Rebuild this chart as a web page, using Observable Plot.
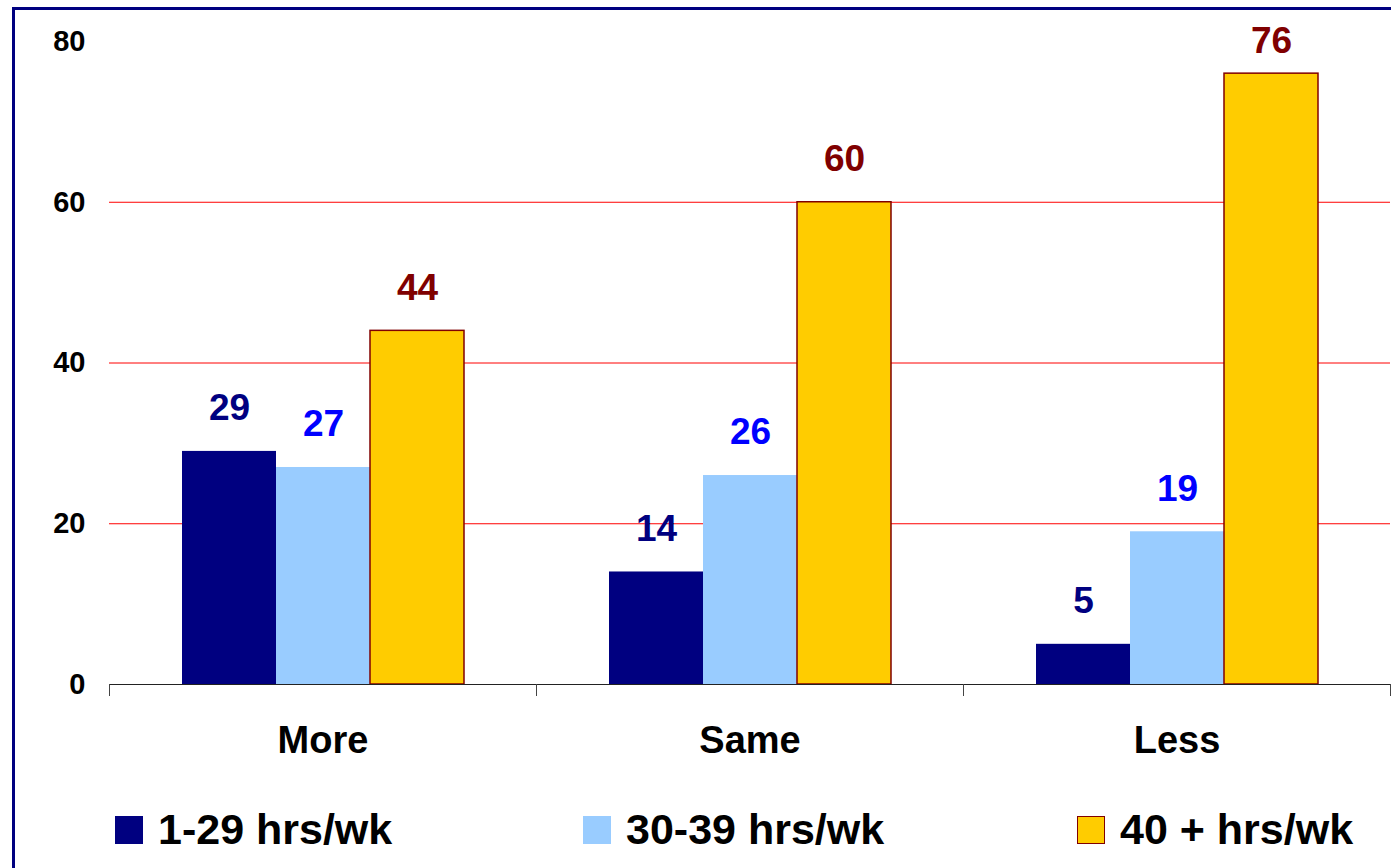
<!DOCTYPE html>
<html>
<head>
<meta charset="utf-8">
<script src="https://cdn.jsdelivr.net/npm/d3@7"></script>
<script src="https://cdn.jsdelivr.net/npm/@observablehq/plot@0.6"></script>
<style>
  html, body { margin: 0; padding: 0; background: #fff; overflow: hidden; }
  body { width: 1391px; height: 868px; position: relative; font-family: "Liberation Sans", Arial, sans-serif; }
  #frame { position: absolute; left: 12px; top: 7px; width: 1400px; height: 900px;
           border-left: 3px solid #000080; border-top: 3px solid #000080; box-sizing: border-box; }
  #chart { position: absolute; left: 0; top: 0; }
  #legend { position: absolute; left: 0; top: 805px; width: 1391px; height: 60px; }
  .item { position: absolute; top: 0; display: flex; align-items: center; font-weight: bold; font-size: 43px; color: #000; white-space: nowrap; }
  .sw { width: 28px; height: 28px; margin-right: 15px; box-sizing: border-box; }
</style>
</head>
<body>
<div id="frame"></div>
<div id="chart"></div>
<div id="legend"></div>
<script>
const categories = ["More", "Same", "Less"];
const series = ["1-29 hrs/wk", "30-39 hrs/wk", "40 + hrs/wk"];
const values1 = [29, 14, 5];
const values2 = [27, 26, 19];
const values3 = [44, 60, 76];
const yTicks = [0, 20, 40, 60, 80];
const gridValues = [20, 40, 60];

const fills = ["#000080", "#99CCFF", "#FFCC00"];
const labelColors = ["#000080", "#0000FF", "#800000"];

const allValues = [values1, values2, values3];
const data = [];
categories.forEach((c, i) => {
  series.forEach((s, j) => data.push({cat: c, series: s, value: allValues[j][i]}));
});

// label sits above its bar, but is kept inside the plot area (like the original)
const labelY = d => Math.min(d.value + 5.35, 80);

const labelMarks = series.map((s, j) =>
  Plot.text(data.filter(d => d.series === s), {
    fx: "cat", x: "series", y: labelY, text: d => String(d.value),
    fill: labelColors[j], fontSize: 37, fontWeight: "bold",
    fontFamily: "Liberation Sans, Arial, sans-serif"
  })
);

const chart = Plot.plot({
  width: 1391,
  height: 775,
  marginTop: 41,
  marginBottom: 91,
  marginLeft: 109,
  marginRight: 1,
  style: {fontFamily: "Liberation Sans, Arial, sans-serif", background: "transparent", overflow: "visible"},
  fx: {domain: categories, padding: 0, axis: null, label: null},
  x: {domain: series, padding: 0, paddingOuter: 0.755, axis: null, label: null},
  y: {domain: [0, 80], axis: null, label: null},
  color: {domain: series, range: fills},
  marks: [
    Plot.ruleY(gridValues, {stroke: "#FF0000", strokeWidth: 1}),
    Plot.barY(data, {fx: "cat", x: "series", y: "value", fill: "series"}),
    Plot.barY(data.filter(d => d.series === series[2]), {fx: "cat", x: "series", y: "value", fill: "none", stroke: "#800000", strokeWidth: 1.5}),
    Plot.ruleY([0], {stroke: "#222", strokeWidth: 1.2}),
    Plot.frame({anchor: "left", insetTop: 643, insetBottom: -11, stroke: "#444"}),
    Plot.frame({anchor: "right", insetTop: 643, insetBottom: -11, stroke: "#444"}),
    Plot.axisY({ticks: yTicks, label: null, tickSize: 0, tickPadding: 24, fontSize: 29, fontWeight: "bold", fill: "#000"}),
    ...labelMarks,
    Plot.text(categories, {fx: d => d, text: d => d, frameAnchor: "bottom", dy: 68, fontSize: 38, fontWeight: "bold", fill: "#000"})
  ]
});
document.getElementById("chart").appendChild(chart);

const legendX = [115, 583, 1077];
const legend = document.getElementById("legend");
series.forEach((s, j) => {
  const item = document.createElement("div");
  item.className = "item";
  item.style.left = legendX[j] + "px";
  const sw = document.createElement("div");
  sw.className = "sw";
  sw.style.background = fills[j];
  if (j === 2) sw.style.border = "1.5px solid #800000";
  const t = document.createElement("span");
  t.textContent = s;
  item.appendChild(sw);
  item.appendChild(t);
  legend.appendChild(item);
});
</script>
</body>
</html>
